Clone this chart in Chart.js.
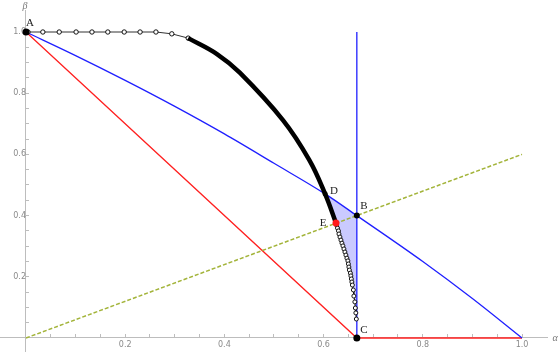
<!DOCTYPE html>
<html><head><meta charset="utf-8">
<script src="https://cdn.jsdelivr.net/npm/chart.js@4"></script>
<style>html,body{margin:0;padding:0;background:#fff}#wrap{width:560px;height:355px}</style>
</head><body><div id="wrap"><canvas id="c" width="560" height="355"></canvas></div>
<script>
// ---- tick marks / labels ----
const majorTicks = [0.2, 0.4, 0.6, 0.8, 1.0];
const majorTickLabels = ['0.2', '0.4', '0.6', '0.8', '1.0'];
const minorTicks = [0.05, 0.1, 0.15, 0.25, 0.3, 0.35, 0.45, 0.5, 0.55, 0.65, 0.7, 0.75, 0.85, 0.9, 0.95];

// ---- series ----
const redX = [0, 0.667, 1.0];
const redY = [1.0, 0, 0];
const blueX = [0, 0.1, 0.2, 0.3, 0.4, 0.5, 0.603, 0.667, 0.8, 0.9, 1.0];
const blueY = [1, 0.923, 0.842, 0.757, 0.667, 0.571, 0.471, 0.4, 0.25, 0.129, 0];
const blueVX = [0.667, 0.667];
const blueVY = [0, 1.0];
const greenX = [0, 1.0];
const greenY = [0, 0.6];
const topX = [0.004, 0.034, 0.067, 0.101, 0.133, 0.165, 0.198, 0.230, 0.262, 0.294, 0.327];
const topY = [1, 1, 1, 1, 1, 1, 1, 1, 1, 0.994, 0.980];
const thickX = [0.327, 0.385, 0.431, 0.518, 0.571, 0.603, 0.625];
const thickY = [0.980, 0.928, 0.867, 0.712, 0.582, 0.471, 0.376];
const tailX = [0.626, 0.628, 0.630, 0.631, 0.633, 0.635, 0.637, 0.639, 0.641, 0.643, 0.645, 0.647, 0.649, 0.650, 0.651, 0.652, 0.654, 0.655, 0.656, 0.657, 0.658, 0.660, 0.661, 0.663, 0.664, 0.665, 0.666];
const tailY = [0.369, 0.359, 0.350, 0.340, 0.330, 0.320, 0.310, 0.301, 0.291, 0.281, 0.271, 0.261, 0.252, 0.242, 0.232, 0.222, 0.212, 0.203, 0.193, 0.183, 0.173, 0.157, 0.137, 0.118, 0.098, 0.082, 0.062];
const pointNames = ['A', 'B', 'C', 'D', 'E'];
const pointX = [0, 0.667, 0.667, 0.603, 0.625];
const pointY = [1, 0.4, 0, 0.471, 0.376];

const zip = (xs, ys) => xs.map((v, i) => ({x: v, y: ys[i]}));

// shaded region D -> B -> down the vertical -> back up along the curve -> E
const shadePts = [
  {x: pointX[3], y: pointY[3]},
  {x: pointX[1], y: pointY[1]},
  {x: blueVX[0], y: tailY[tailY.length - 1]},
  ...zip(tailX, tailY).reverse(),
  {x: pointX[4], y: pointY[4]}
];

const labelOffsets = {A: [4, -9], B: [7, -9], C: [7, -8], D: [9, -3], E: [-13, 0]};
const labelPlugin = {
  id: 'lbl',
  afterDatasetsDraw(chart) {
    const {ctx, scales: {x, y}, chartArea} = chart;
    ctx.save();
    ctx.font = '11px "Liberation Serif"';
    ctx.fillStyle = '#222';
    ctx.textAlign = 'center';
    ctx.textBaseline = 'middle';
    pointNames.forEach((n, i) => {
      const o = labelOffsets[n];
      ctx.fillText(n, x.getPixelForValue(pointX[i]) + o[0], y.getPixelForValue(pointY[i]) + o[1]);
    });
    ctx.font = 'italic 10px "Liberation Serif"';
    ctx.fillStyle = '#777';
    ctx.fillText('α', chartArea.right + 8, y.getPixelForValue(0));
    ctx.fillText('β', x.getPixelForValue(0) - 1, chartArea.top - 4);
    ctx.restore();
  }
};

const allTicks = minorTicks.concat(majorTicks).sort((a, b) => a - b);
const tickCb = v => {
  const i = majorTicks.findIndex(m => Math.abs(m - v) < 1e-6);
  return i >= 0 ? majorTickLabels[i] : '';
};
const axisCommon = {
  type: 'linear',
  afterBuildTicks: s => { s.ticks = allTicks.map(v => ({value: v})); },
  border: {display: true, color: '#bdbdbd', width: 1},
  grid: {drawOnChartArea: false, drawTicks: true, tickLength: -4, color: '#bdbdbd'}
};

new Chart(document.getElementById('c'), {
  type: 'scatter',
  data: {
    datasets: [
      {data: zip(pointX, pointY), showLine: false, pointRadius: [3.5, 3, 3.5, 2.5, 3.5],
        pointBackgroundColor: ['#000', '#000', '#000', '#000', '#ff1a1a'],
        pointBorderColor: ['#000', '#000', '#000', '#000', '#ff1a1a'], pointBorderWidth: 0, order: 0},
      {data: zip(tailX, tailY), showLine: true, borderColor: '#111', borderWidth: 1,
        pointRadius: 2, pointBackgroundColor: '#fff', pointBorderColor: '#111', pointBorderWidth: 1, order: 1},
      {data: zip(thickX, thickY), showLine: true, borderColor: '#000', borderWidth: 4.5,
        tension: 0.4, pointRadius: 0, order: 2},
      {data: zip(topX, topY), showLine: true, borderColor: '#333', borderWidth: 1,
        pointRadius: 2.2, pointBackgroundColor: '#fff', pointBorderColor: '#111', pointBorderWidth: 1, order: 3},
      {data: zip(greenX, greenY), showLine: true, borderColor: '#a3b43a', borderWidth: 1.5, borderDash: [4, 2], pointRadius: 0, order: 4},
      {data: zip(blueVX, blueVY), showLine: true, borderColor: '#1f1fff', borderWidth: 1.3, pointRadius: 0, order: 5},
      {data: zip(blueX, blueY), showLine: true, borderColor: '#1f1fff', borderWidth: 1.3,
        cubicInterpolationMode: 'monotone', pointRadius: 0, order: 6},
      {data: zip(redX, redY), showLine: true, borderColor: '#ff2020', borderWidth: 1.3, pointRadius: 0, order: 7},
      {data: shadePts, showLine: true, borderWidth: 0, borderColor: 'rgba(0,0,0,0)', fill: 'shape',
        backgroundColor: 'rgba(150,150,255,0.5)', pointRadius: 0, order: 8}
    ]
  },
  options: {
    responsive: false,
    animation: false,
    events: [],
    layout: {autoPadding: false, padding: {left: 0, right: 13, top: 10, bottom: 0}},
    plugins: {legend: {display: false}, tooltip: {enabled: false}},
    scales: {
      x: Object.assign({}, axisCommon, {min: -0.0524, max: 1.0504, position: {y: 0},
        ticks: {callback: tickCb, color: '#8a8a8a', font: {family: 'DejaVu Sans', size: 8}, autoSkip: false, maxRotation: 0, padding: 6}}),
      y: Object.assign({}, axisCommon, {min: -0.0425, max: 1.0719, position: {x: 0},
        ticks: {callback: tickCb, color: '#8a8a8a', font: {family: 'DejaVu Sans', size: 8, lineHeight: 1}, autoSkip: false, padding: 0}})
    }
  },
  plugins: [labelPlugin]
});
</script>
</body></html>
